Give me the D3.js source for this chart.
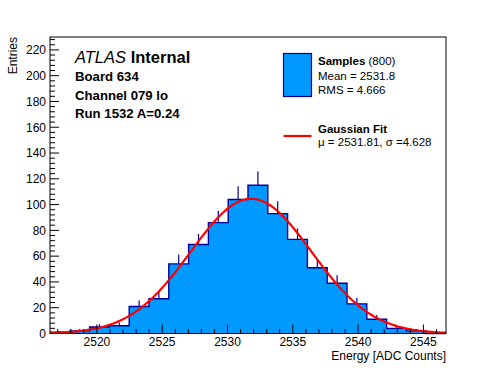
<!DOCTYPE html>
<html><head><meta charset="utf-8">
<script src="https://cdn.jsdelivr.net/npm/d3@7"></script>
<style>
body{margin:0;background:#fff}
svg{display:block;font-family:"Liberation Sans",Arial,Helvetica,sans-serif}
</style>
</head><body><svg id="c" width="496" height="372"></svg>
<script>
// ---- data ----
const binLow = 2516.41;
const binWidth = 1.516;
const counts = [1, 2, 5, 6, 21, 27, 54, 69, 86, 104, 115, 93, 73, 51, 39, 23, 11, 4, 2, 0];
const xDomain = [2516.41, 2546.73];
const yDomain = [0, 230];
const xTickValues = [2520, 2525, 2530, 2535, 2540, 2545];
const yTickValues = [0, 20, 40, 60, 80, 100, 120, 140, 160, 180, 200, 220];
const fitConst = 104.5, fitMean = 2531.81, fitSigma = 4.628;
const infoLines = ["Board 634", "Channel 079 lo", "Run 1532 A=0.24"];
const legendSamples = ["Mean = 2531.8", "RMS = 4.666"];
const legendFit = "\u03bc = 2531.81, \u03c3 =4.628";
const nEntries = 800;

// ---- layout ----
const L = 50, R = 446, T = 37, B = 333.5;
const svg = d3.select("#c");
svg.append("rect").attr("width", 496).attr("height", 372).attr("fill", "#fff");
const x = d3.scaleLinear().domain(xDomain).range([L, R]);
const y = d3.scaleLinear().domain(yDomain).range([B, T]);

const fillCol = "#0099ff", lineCol = "#000099";

// histogram fill + outline
const edges = counts.map((c, i) => binLow + i * binWidth);
const pts = [];
counts.forEach((c, i) => {
  pts.push([x(edges[i]), y(c)]);
  pts.push([x(edges[i] + binWidth), y(c)]);
});
const area = [[x(binLow), y(0)], ...pts, [x(binLow + counts.length * binWidth), y(0)]];
svg.append("path").attr("d", "M" + area.map(p => p.join(",")).join("L") + "Z")
  .attr("fill", fillCol).attr("stroke", "none");
svg.append("path").attr("d", "M" + pts.map(p => p.join(",")).join("L"))
  .attr("fill", "none").attr("stroke", lineCol).attr("stroke-width", 1.4);
// error bars (upper part visible)
counts.forEach((c, i) => {
  if (c <= 0) return;
  const cx = x(edges[i] + binWidth / 2);
  svg.append("line").attr("x1", cx).attr("x2", cx)
    .attr("y1", y(c)).attr("y2", y(c + Math.sqrt(c)))
    .attr("stroke", lineCol).attr("stroke-width", 1.2);
});

// gaussian fit curve
const gx = d3.range(0, 301).map(k => xDomain[0] + (xDomain[1] - xDomain[0]) * k / 300);
const line = d3.line().x(d => x(d)).y(d => y(fitConst * Math.exp(-0.5 * Math.pow((d - fitMean) / fitSigma, 2))));
svg.append("path").datum(gx).attr("d", line).attr("fill", "none")
  .attr("stroke", "#ff0000").attr("stroke-width", 2.2);

// frame
svg.append("rect").attr("x", L).attr("y", T).attr("width", R - L).attr("height", B - T)
  .attr("fill", "none").attr("stroke", "#000").attr("stroke-width", 1);

// ticks
const tk = svg.append("g").attr("stroke", "#000").attr("stroke-width", 1);
d3.range(2517, 2547).forEach(v => {
  const major = v % 5 === 0;
  tk.append("line").attr("x1", x(v)).attr("x2", x(v)).attr("y1", B).attr("y2", B - (major ? 9 : 4.5));
});
d3.range(0, 230, 4).forEach(v => {
  const major = v % 20 === 0;
  tk.append("line").attr("x1", L).attr("x2", L + (major ? 9 : 5)).attr("y1", y(v)).attr("y2", y(v));
});
svg.append("g").selectAll("text").data(xTickValues).join("text")
  .attr("x", d => x(d)).attr("y", 346).attr("text-anchor", "middle")
  .attr("font-size", 12).text(d => d);
svg.append("g").selectAll("text").data(yTickValues).join("text")
  .attr("x", 46).attr("y", d => y(d) + 4.3).attr("text-anchor", "end")
  .attr("font-size", 12).text(d => d);

// axis titles
svg.append("text").attr("x", 446).attr("y", 359.5).attr("text-anchor", "end")
  .attr("font-size", 12).text("Energy [ADC Counts]");
svg.append("text").attr("transform", "translate(17,37) rotate(-90)").attr("text-anchor", "end")
  .attr("font-size", 12).text("Entries");

// ATLAS label
const at = svg.append("text").attr("x", 75).attr("y", 62.5).attr("font-size", 16.5);
at.append("tspan").attr("font-style", "italic").text("ATLAS");
at.append("tspan").attr("font-weight", "bold").text(" Internal");
infoLines.forEach((s, i) => {
  svg.append("text").attr("x", 75).attr("y", 81 + i * 18.5).attr("font-size", 13.2)
    .attr("font-weight", "bold").text(s);
});

// legend
svg.append("rect").attr("x", 283.5).attr("y", 53.5).attr("width", 28).attr("height", 43)
  .attr("fill", fillCol).attr("stroke", lineCol).attr("stroke-width", 1.2);
const ls = svg.append("text").attr("x", 318).attr("y", 65).attr("font-size", 11.5);
ls.append("tspan").attr("font-weight", "bold").text("Samples");
ls.append("tspan").text(" (" + nEntries + ")");
legendSamples.forEach((s, i) => {
  svg.append("text").attr("x", 318).attr("y", 80 + i * 14).attr("font-size", 11.5).text(s);
});
svg.append("line").attr("x1", 283.5).attr("x2", 311.5).attr("y1", 136).attr("y2", 136)
  .attr("stroke", "#ff0000").attr("stroke-width", 2.2);
svg.append("text").attr("x", 318).attr("y", 133.3).attr("font-size", 11.5)
  .attr("font-weight", "bold").text("Gaussian Fit");
svg.append("text").attr("x", 318).attr("y", 146).attr("font-size", 11.5).text(legendFit);
</script>
</body></html>
